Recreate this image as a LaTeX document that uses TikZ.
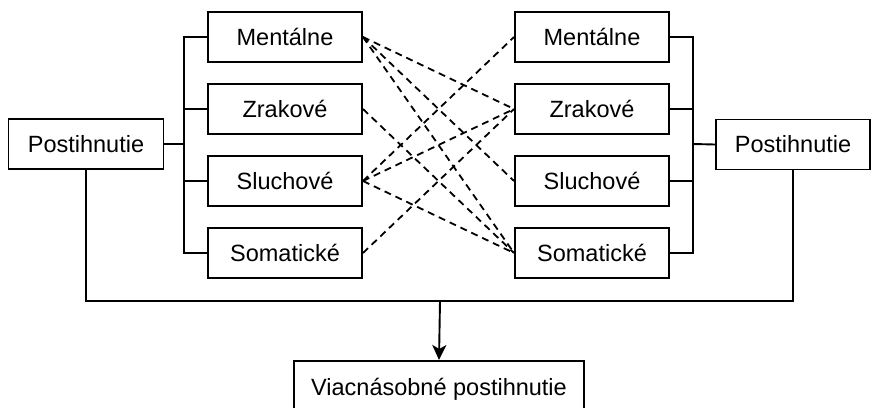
\documentclass[tikz,border=0pt]{standalone}
\usepackage{fontspec}
\setmainfont{Liberation Sans}
\usetikzlibrary{arrows.meta}
\begin{document}
\begin{tikzpicture}[x=1pt,y=-1pt,
  box/.style={draw,line width=1.9pt,minimum width=154pt,minimum height=50pt,
    inner sep=0pt,font=\fontsize{23.5}{28}\selectfont},
  link/.style={line width=1.9pt},
  cross/.style={line width=1.8pt,dash pattern=on 7pt off 5pt}]
\useasboundingbox (0,0) rectangle (874,407);
\clip (0,0) rectangle (874,407);
% outer category boxes
\node[box,minimum width=155pt] (lp) at (86,144) {Postihnutie};
\node[box] (rp) at (793,144.5) {Postihnutie};
% left column
\node[box] (lm) at (285,37) {Mentálne};
\node[box] (lz) at (285,109) {Zrakové};
\node[box] (ls) at (285,181) {Sluchové};
\node[box] (lo) at (285,253) {Somatické};
% right column
\node[box] (rm) at (592,37) {Mentálne};
\node[box] (rz) at (592,109) {Zrakové};
\node[box] (rs) at (592,181) {Sluchové};
\node[box] (ro) at (592,253) {Somatické};
% result box (runs past the lower edge)
\node[box,minimum width=290pt,minimum height=56pt,anchor=north] (vp) at (439,360) {\raisebox{4pt}{Viacnásobné postihnutie}};
% bracket joints
\coordinate (lb) at (184,144);
\coordinate (rb) at (693,144);
\coordinate (bj) at (440,301);
% left bracket
\draw[link] (lp.east) -- (lb);
\draw[link] (lm.west) -| (lb) |- (lo.west);
\draw[link] (lz.west) -- (lz.west -| lb);
\draw[link] (ls.west) -- (ls.west -| lb);
% right bracket
\draw[link] (rp.west) -- (rb);
\draw[link] (rm.east) -| (rb) |- (ro.east);
\draw[link] (rz.east) -- (rz.east -| rb);
\draw[link] (rs.east) -- (rs.east -| rb);
% joining line and arrow
\draw[link] (lp.south) |- (bj) -| (rp.south);
\draw[link,-{Stealth[length=15pt,width=14pt,inset=4pt]}] (bj) -- (vp.north);
% combinations
\draw[cross] (lm.east) -- (rz.west);
\draw[cross] (lm.east) -- (rs.west);
\draw[cross] (lm.east) -- (ro.west);
\draw[cross] (lz.east) -- (ro.west);
\draw[cross] (ls.east) -- (rm.west);
\draw[cross] (ls.east) -- (rz.west);
\draw[cross] (ls.east) -- (ro.west);
\draw[cross] (lo.east) -- (rz.west);
\end{tikzpicture}
\end{document}
